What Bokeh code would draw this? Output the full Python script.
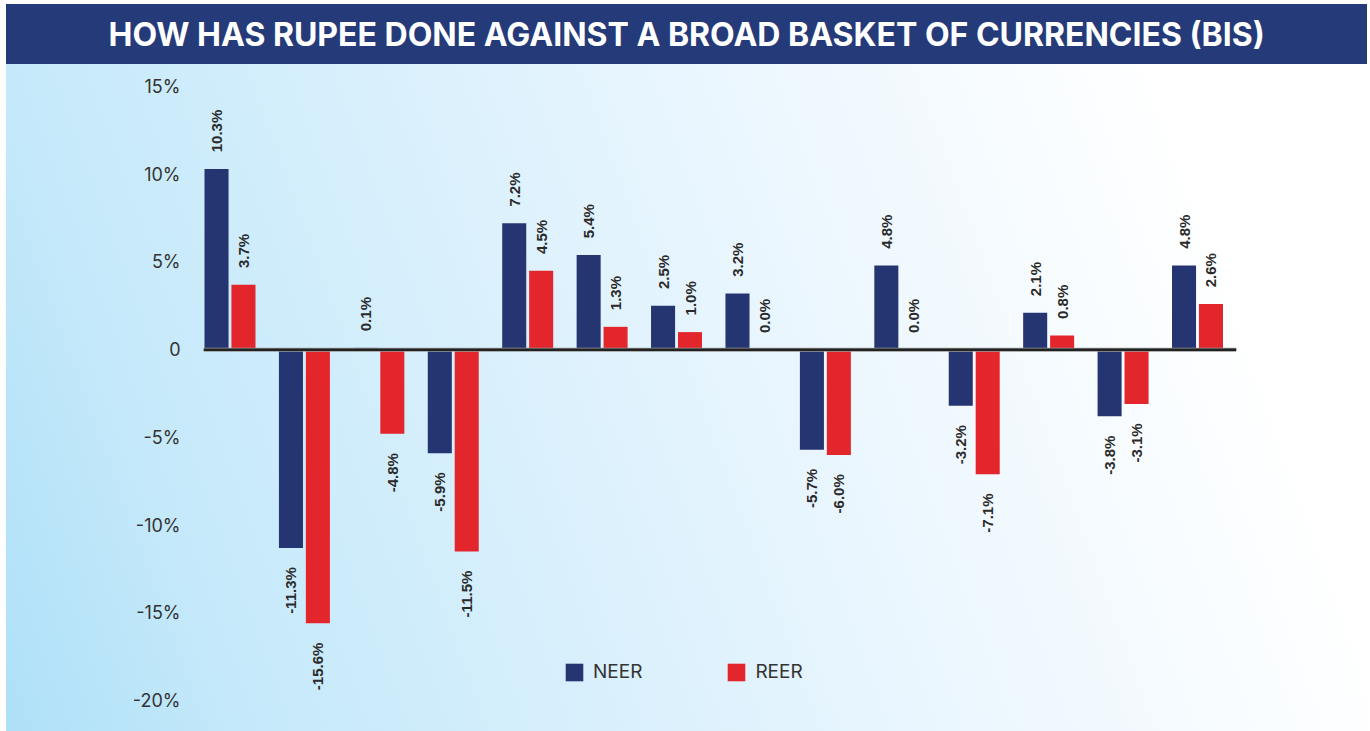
import math
from bokeh.plotting import figure
from bokeh.models import (Range1d, FixedTicker, CustomJSTickFormatter, Span, Legend,
                          LegendItem, ColumnDataSource, Title)
from bokeh.core.properties import value
from bokeh.transform import dodge
from bokeh.embed import file_html
from bokeh.resources import INLINE

# ---- data ----
periods = list(range(14))
neer = [10.3, -11.3, 0.1, -5.9, 7.2, 5.4, 2.5, 3.2, -5.7, 4.8, -3.2, 2.1, -3.8, 4.8]
reer = [3.7, -15.6, -4.8, -11.5, 4.5, 1.3, 1.0, 0.0, -6.0, 0.0, -7.1, 0.8, -3.1, 2.6]
y_ticks = [-20, -15, -10, -5, 0, 5, 10, 15]
series_names = ["NEER", "REER"]

title_text = "HOW HAS RUPEE DONE AGAINST A BROAD BASKET OF CURRENCIES (BIS)"

NAVY = "#243572"
RED = "#e3262b"
BANNER = "#253a78"

SHIFT = 18  # figure is drawn 18px taller and pulled up by CSS so the title sits higher

p = figure(width=1370, height=731 + SHIFT, output_backend="svg", toolbar_location=None,
           x_range=Range1d(-0.356, 13.524), y_range=Range1d(-20, 15),
           min_border_left=203, min_border_right=134, min_border_top=86 + SHIFT,
           min_border_bottom=31)
p.border_fill_color = None
p.background_fill_color = None
p.outline_line_color = None
p.styles = {
    "margin-top": f"-{SHIFT}px",
    "background": (f"linear-gradient({BANNER}, {BANNER}) 6px {4 + SHIFT}px / 1361px 60px no-repeat, "
                   "linear-gradient(70deg, #aee0f8 0%, #c5e9fa 15%, #eaf6fe 57%, #ffffff 86%) "
                   f"6px {4 + SHIFT}px / 1361px 727px no-repeat, #ffffff"),
}

title = Title(text=title_text, align="left", offset=-95, vertical_align="middle",
              text_color="white", text_font="Inter", text_font_size="32px",
              text_font_style="bold")
if "standoff" in title.properties():
    title.standoff = 63
p.add_layout(title, "above")

src = ColumnDataSource(dict(x=periods, neer=neer, reer=reer))
w = 0.323
r1 = p.vbar(x=dodge("x", -0.181, range=p.x_range), top="neer", bottom=0, width=w,
            source=src, fill_color=NAVY, line_color=None)
r2 = p.vbar(x=dodge("x", 0.181, range=p.x_range), top="reer", bottom=0, width=w,
            source=src, fill_color=RED, line_color=None)

# value labels
def label_source(vals, positive):
    xs, ys, ts = [], [], []
    for i, v in zip(periods, vals):
        if (v >= 0) == positive:
            xs.append(i)
            ys.append(v + 0.95 if positive else v - 1.1)
            ts.append(f"{v:.1f}%")
    return ColumnDataSource(dict(x=xs, y=ys, t=ts))

for vals, off in ((neer, -0.181), (reer, 0.181)):
    for positive in (True, False):
        s = label_source(vals, positive)
        p.text(x=dodge("x", off, range=p.x_range), y="y", text="t", source=s,
               angle=math.pi / 2, text_align="left" if positive else "right",
               text_baseline="middle", text_font=value("Liberation Sans"),
               text_font_size="15px", text_font_style="bold", text_color="#2a2a2a")

p.add_layout(Span(location=0, dimension="width", line_color="#9a9a9a", line_width=4))
p.add_layout(Span(location=0, dimension="width", line_color="#222222", line_width=2.5))

p.xaxis.visible = False
p.xgrid.visible = False
p.ygrid.visible = False
p.yaxis.ticker = FixedTicker(ticks=y_ticks)
p.yaxis.formatter = CustomJSTickFormatter(code="return tick == 0 ? '0' : tick + '%';")
p.yaxis.axis_line_color = None
p.yaxis.major_tick_line_color = None
p.yaxis.minor_tick_line_color = None
p.yaxis.major_label_standoff = 17
p.yaxis.major_label_text_font = "Inter"
p.yaxis.major_label_text_font_size = "18px"
p.yaxis.major_label_text_color = "#333333"

legend = Legend(items=[LegendItem(label=series_names[0], renderers=[r1]),
                       LegendItem(label=series_names[1], renderers=[r2])],
                orientation="horizontal", location=(360, 17),
                glyph_width=22, glyph_height=22, label_standoff=8, spacing=83,
                padding=0, margin=0, background_fill_alpha=0, border_line_alpha=0,
                label_text_font="Inter", label_text_font_size="19px",
                label_text_color="#333333")
p.add_layout(legend, "center")

open("out.html", "w").write(file_html(p, INLINE))
